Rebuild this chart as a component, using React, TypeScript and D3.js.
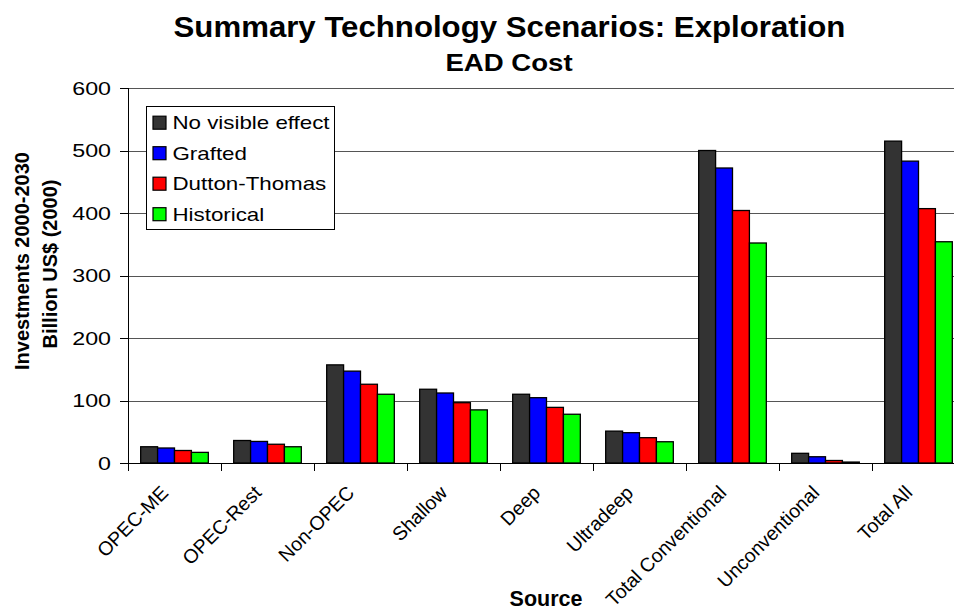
import React from "react";
import * as d3 from "d3";

// Categories along the x axis
const categories = [
  "OPEC-ME",
  "OPEC-Rest",
  "Non-OPEC",
  "Shallow",
  "Deep",
  "Ultradeep",
  "Total Conventional",
  "Unconventional",
  "Total All",
];

// Series names (legend order) and colours
const seriesNames = ["No visible effect", "Grafted", "Dutton-Thomas", "Historical"];
const seriesColors = ["#333333", "#0000FF", "#FF0000", "#00FF00"];

// Investments 2000-2030, billion US$ (2000)
const noVisibleEffect = [26, 36, 157, 118, 110, 51, 500, 15.5, 515];
const grafted = [24, 34.5, 147, 112, 104.5, 48.5, 472, 10, 483];
const duttonThomas = [20, 30, 126, 96.5, 89, 40.5, 404, 4, 407];
const historical = [17, 26, 110, 85, 78, 34, 352, 1.5, 354];

const yTicks = [0, 100, 200, 300, 400, 500, 600];

const seriesValues = [noVisibleEffect, grafted, duttonThomas, historical];

const W = 954;
const H = 610;
const plot = { left: 128, top: 88, bottom: 463, catWidth: 93 };

const FONT = "'Liberation Sans', Arial, Helvetica, sans-serif";

export default function App() {
  const right = plot.left + plot.catWidth * categories.length;
  const x = d3.scaleBand<string>().domain(categories).range([plot.left, right]).padding(0);
  const bw = x.bandwidth();
  const gap = (bw * 1.5) / 5.5;
  const xs = d3.scaleBand<string>().domain(seriesNames).range([gap / 2, bw - gap / 2]).padding(0);
  const y = d3.scaleLinear().domain([0, 600]).range([plot.bottom, plot.top]);

  const boundaries = d3.range(categories.length + 1).map((i) => plot.left + i * bw);

  return (
    <svg
      width={W}
      height={H}
      viewBox={`0 0 ${W} ${H}`}
      style={{ position: "absolute", left: 0, top: 0, background: "#fff" }}
      fontFamily={FONT}
    >
      <rect x={0} y={0} width={W} height={H} fill="#fff" />

      {/* Title */}
      <text
        transform={`translate(509.5,37) scale(1.04,1)`}
        textAnchor="middle"
        fontSize={30}
        fontWeight="bold"
      >
        Summary Technology Scenarios: Exploration
      </text>
      <text
        transform={`translate(509,71) scale(1.2,1)`}
        textAnchor="middle"
        fontSize={23}
        fontWeight="bold"
      >
        EAD Cost
      </text>

      {/* Gridlines */}
      {yTicks
        .filter((t) => t > 0)
        .map((t) => (
          <line
            key={"g" + t}
            x1={plot.left}
            x2={W}
            y1={Math.round(y(t)) + 0.5}
            y2={Math.round(y(t)) + 0.5}
            stroke="#555"
            strokeWidth={1}
          />
        ))}

      {/* Bars */}
      {categories.map((c, ci) => (
        <g key={c} transform={`translate(${x(c)},0)`}>
          {seriesNames.map((s, si) => {
            const v = seriesValues[si][ci];
            return (
              <rect
                key={s}
                x={xs(s)}
                y={y(v)}
                width={xs.bandwidth()}
                height={plot.bottom - y(v)}
                fill={seriesColors[si]}
                stroke="#000"
                strokeWidth={1.3}
              />
            );
          })}
        </g>
      ))}

      {/* Y axis */}
      <line x1={plot.left + 0.5} x2={plot.left + 0.5} y1={plot.top} y2={plot.bottom} stroke="#000" />
      {yTicks.map((t) => (
        <g key={"t" + t}>
          <line
            x1={plot.left - 8}
            x2={plot.left}
            y1={Math.round(y(t)) + 0.5}
            y2={Math.round(y(t)) + 0.5}
            stroke="#000"
          />
          <text
            transform={`translate(111,${y(t) + 6.5}) scale(1.25,1)`}
            textAnchor="end"
            fontSize={18.6}
          >
            {t}
          </text>
        </g>
      ))}

      {/* X axis */}
      <line x1={plot.left} x2={W} y1={plot.bottom + 0.5} y2={plot.bottom + 0.5} stroke="#000" />
      {boundaries.map((bx, i) => (
        <line
          key={"b" + i}
          x1={Math.round(bx) + 0.5}
          x2={Math.round(bx) + 0.5}
          y1={plot.bottom}
          y2={plot.bottom + 8}
          stroke="#000"
        />
      ))}
      {categories.map((c) => (
        <text
          key={"l" + c}
          transform={`translate(${(x(c) as number) + bw / 2 - 5},494) rotate(-45)`}
          textAnchor="end"
          fontSize={19.5}
        >
          {c}
        </text>
      ))}

      {/* Axis titles */}
      <text x={546} y={606} textAnchor="middle" fontSize={21.5} fontWeight="bold">
        Source
      </text>
      <g transform="translate(28.5,261) rotate(-90)">
        <text textAnchor="middle" fontSize={20} fontWeight="bold">
          Investments 2000-2030
        </text>
      </g>
      <g transform="translate(56.5,264) rotate(-90)">
        <text textAnchor="middle" fontSize={20} fontWeight="bold">
          Billion US$ (2000)
        </text>
      </g>

      {/* Legend */}
      <g>
        <rect x={146.5} y={106.5} width={188} height={123} fill="#fff" stroke="#000" strokeWidth={1} />
        {seriesNames.map((s, i) => {
          const cy = 122.7 + i * 30.5;
          return (
            <g key={"lg" + s}>
              <rect
                x={153}
                y={cy - 6.5}
                width={13}
                height={13}
                fill={seriesColors[i]}
                stroke="#000"
                strokeWidth={1.2}
              />
              <text
                transform={`translate(172.5,${cy + 6.7}) scale(1.2,1)`}
                fontSize={18.6}
              >
                {s}
              </text>
            </g>
          );
        })}
      </g>
    </svg>
  );
}
